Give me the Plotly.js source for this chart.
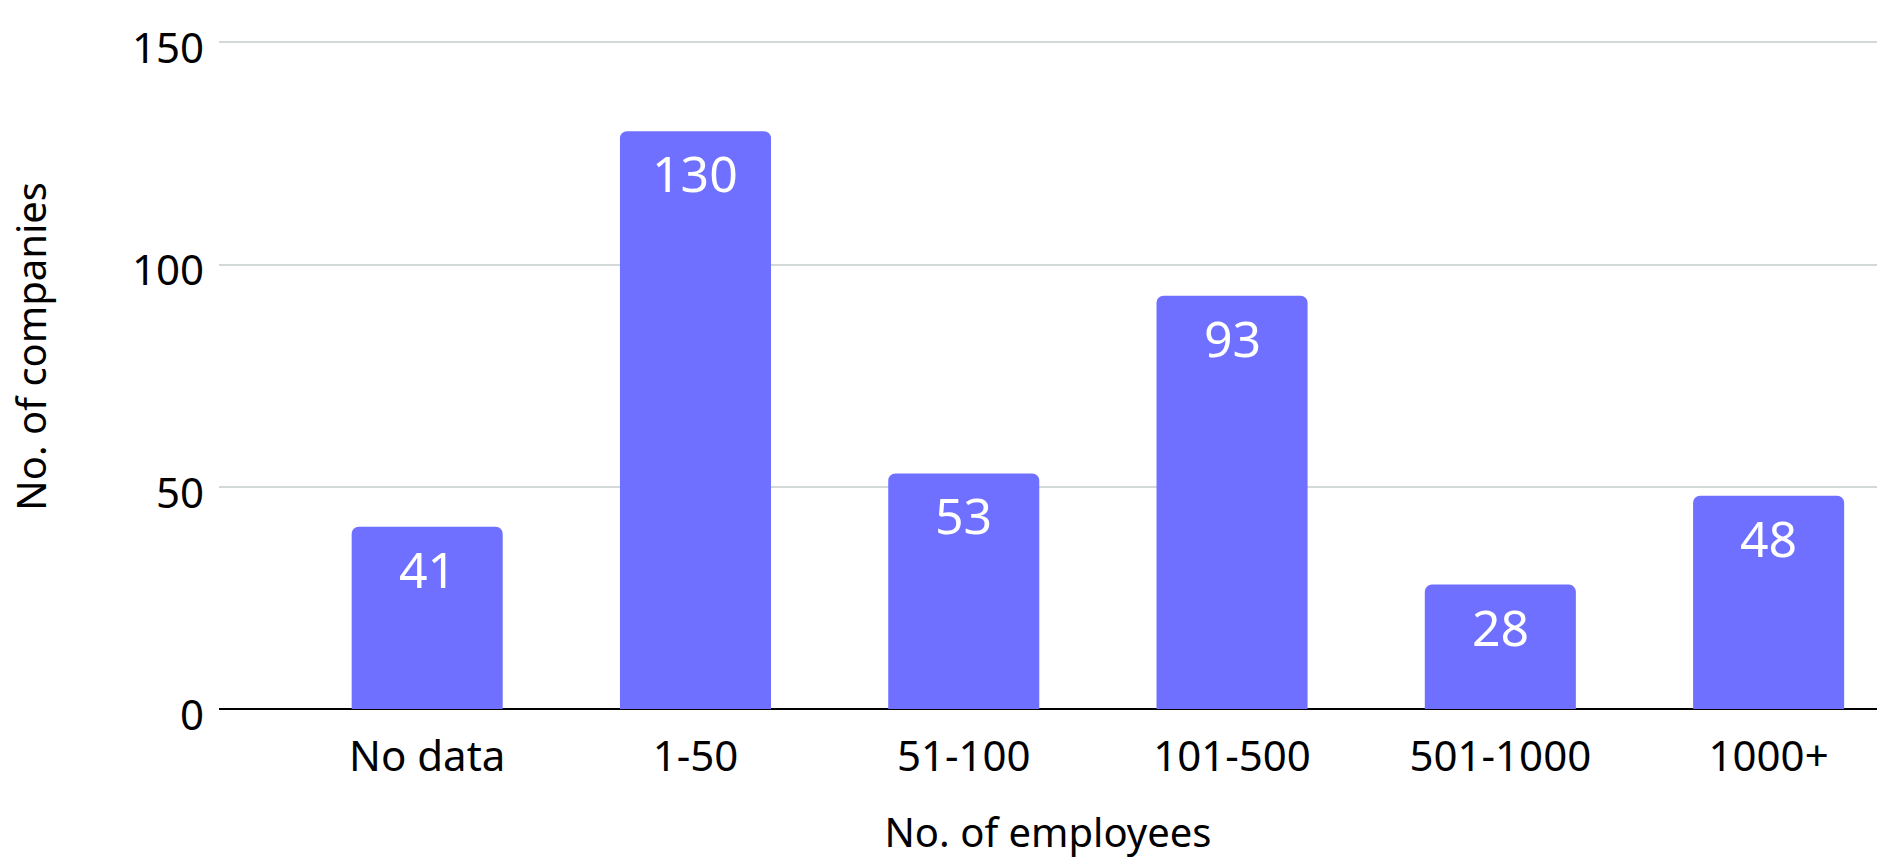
<!DOCTYPE html>
<html>
<head>
<meta charset="utf-8">
<script src="https://cdn.plot.ly/plotly-3.0.1.min.js"></script>
<style>
  html, body { margin: 0; padding: 0; background: #ffffff; }
  #chart { width: 1891px; height: 859px; }
</style>
</head>
<body>
<div id="chart"></div>
<script>
// Data
const categories = ["No data", "1-50", "51-100", "101-500", "501-1000", "1000+"];
const companies = [41, 130, 53, 93, 28, 48];
const yTickValues = [0, 50, 100, 150];
const xTitle = "No. of employees";
const yTitle = "No. of companies";

const barColor = "#6F70FF";
const fontFamily = "'Noto Sans', 'Open Sans', sans-serif";

const trace = {
  type: "bar",
  x: categories,
  y: companies,
  marker: { color: barColor, cornerradius: 7 },
  hoverinfo: "skip"
};

const annotations = categories.map((c, i) => ({
  x: c,
  y: companies[i],
  xref: "x",
  yref: "y",
  text: String(companies[i]),
  showarrow: false,
  yanchor: "top",
  yshift: -6,
  font: { family: fontFamily, size: 50, color: "#ffffff" }
}));

// y-axis title drawn as rotated text in the left margin
annotations.push({
  xref: "paper",
  yref: "paper",
  x: 0,
  y: 0.54,
  xanchor: "center",
  yanchor: "middle",
  xshift: -188,
  textangle: -90,
  text: yTitle,
  showarrow: false,
  font: { family: fontFamily, size: 40, color: "#000000" }
});

const layout = {
  width: 1891,
  height: 859,
  paper_bgcolor: "#ffffff",
  plot_bgcolor: "#ffffff",
  margin: { l: 219, r: 14, t: 38, b: 150, pad: 0 },
  bargap: 0.437,
  showlegend: false,
  font: { family: fontFamily, color: "#000000" },
  xaxis: {
    type: "category",
    range: [-0.776, 5.404],
    showgrid: false,
    zeroline: false,
    showline: false,
    ticks: "",
    tickfont: { family: fontFamily, size: 42, color: "#000000" },
    ticklabelstandoff: 19,
    title: { text: xTitle, font: { family: fontFamily, size: 40, color: "#000000" }, standoff: 44 },
    fixedrange: true
  },
  yaxis: {
    range: [0, 151],
    tickvals: yTickValues,
    ticktext: yTickValues.map(String),
    showgrid: true,
    gridcolor: "#d3d8d8",
    gridwidth: 2,
    zeroline: true,
    zerolinecolor: "#000000",
    zerolinewidth: 2.5,
    showline: false,
    ticks: "",
    tickfont: { family: fontFamily, size: 42, color: "#000000" },
    ticklabelstandoff: 14,
    ticklabelshift: 6,
    fixedrange: true
  },
  annotations: annotations
};

Plotly.newPlot("chart", [trace], layout, { displayModeBar: false, staticPlot: true });
</script>
</body>
</html>
